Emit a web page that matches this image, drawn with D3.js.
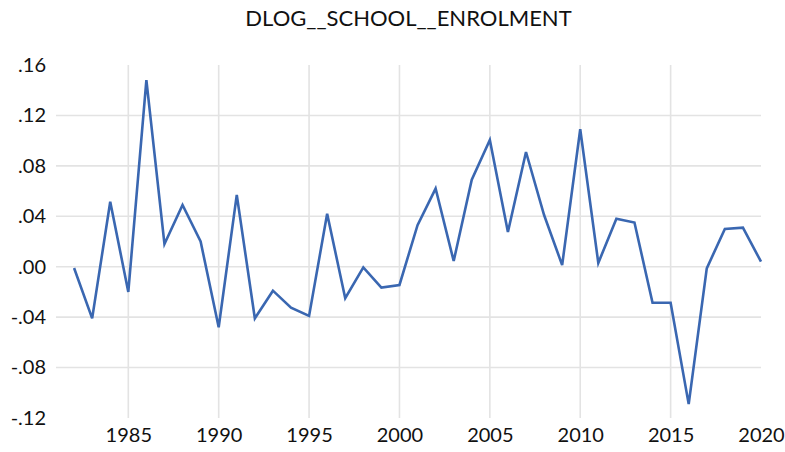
<!DOCTYPE html>
<html>
<head>
<meta charset="utf-8">
<script src="https://cdn.jsdelivr.net/npm/d3@7"></script>
<style>
  body { margin: 0; background: #fff; }
  svg text { font-family: Lato, "Open Sans", sans-serif; fill: #111; }
</style>
</head>
<body>
<div id="chart"></div>
<script>
const years = d3.range(1982, 2021);
const values = [
  -0.001, -0.041, 0.0515, -0.020, 0.148, 0.018, 0.049, 0.020, -0.048, 0.057,
  -0.041, -0.019, -0.0325, -0.039, 0.042, -0.025, -0.0005, -0.0165, -0.0145, 0.033,
  0.062, 0.0045, 0.069, 0.1005, 0.0275, 0.091, 0.041, 0.0013, 0.109, 0.003,
  0.038, 0.035, -0.0286, -0.0286, -0.109, -0.0013, 0.030, 0.031, 0.004
];
const y_ticks = [-0.12, -0.08, -0.04, 0.00, 0.04, 0.08, 0.12, 0.16];
const x_ticks = [1985, 1990, 1995, 2000, 2005, 2010, 2015, 2020];
const title = "DLOG__SCHOOL__ENROLMENT";

const width = 785, height = 452;
const margin = {left: 56, right: 24, top: 65, bottom: 34};

const svg = d3.select("#chart").append("svg")
  .attr("width", width)
  .attr("height", height);

const x = d3.scaleLinear()
  .domain([1981, 2020])
  .range([margin.left, width - margin.right]);
const y = d3.scaleLinear()
  .domain([-0.12, 0.16])
  .range([height - margin.bottom, margin.top]);

// grid
const grid = svg.append("g").attr("stroke", "#e3e3e3").attr("stroke-width", 1.6);
grid.selectAll("line.h")
  .data(y_ticks.filter(d => d > -0.12 && d < 0.16))
  .join("line")
    .attr("x1", x.range()[0]).attr("x2", x.range()[1])
    .attr("y1", d => y(d)).attr("y2", d => y(d));
grid.selectAll("line.v")
  .data(x_ticks.filter(d => d < 2020))
  .join("line")
    .attr("x1", d => x(d)).attr("x2", d => x(d))
    .attr("y1", y.range()[1]).attr("y2", y.range()[0]);

// axes (labels only), ".04" / "-.04" style
const fmt = d => (d < 0 ? "-" : "") + Math.abs(d).toFixed(2).replace(/^0/, "");
const yAxis = svg.append("g")
  .attr("transform", `translate(${margin.left},0)`)
  .call(d3.axisLeft(y).tickValues(y_ticks).tickFormat(fmt).tickSize(0).tickPadding(10));
const xAxis = svg.append("g")
  .attr("transform", `translate(0,${height - margin.bottom})`)
  .call(d3.axisBottom(x).tickValues(x_ticks).tickFormat(d3.format("d")).tickSize(0).tickPadding(10));
[yAxis, xAxis].forEach(a => {
  a.select(".domain").remove();
  a.selectAll("text").attr("font-size", 20).attr("font-family", null).attr("fill", "#111");
});

// series
const line = d3.line()
  .x((d, i) => x(years[i]))
  .y(d => y(d));
svg.append("path")
  .datum(values)
  .attr("fill", "none")
  .attr("stroke", "#3a67b1")
  .attr("stroke-width", 2.6)
  .attr("stroke-linejoin", "miter")
  .attr("d", line);

svg.append("text")
  .attr("x", (x.range()[0] + x.range()[1]) / 2)
  .attr("y", 26)
  .attr("text-anchor", "middle")
  .attr("font-size", 22)
  .text(title);
</script>
</body>
</html>
